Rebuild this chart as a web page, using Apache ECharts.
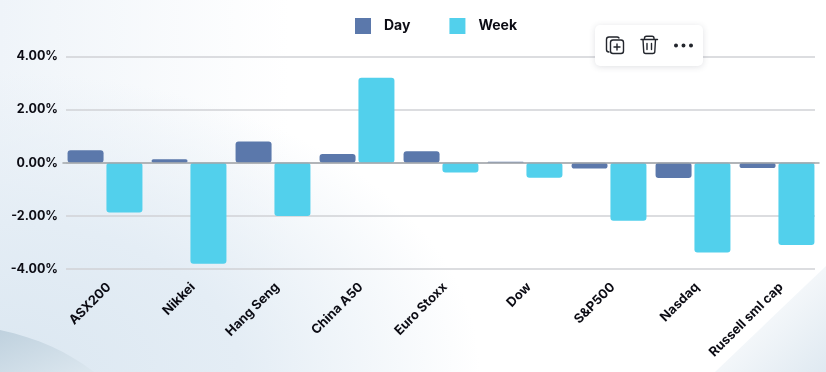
<!DOCTYPE html>
<html><head><meta charset="utf-8">
<style>
html,body{margin:0;padding:0;width:826px;height:372px;overflow:hidden}
body{position:relative;background:
 radial-gradient(ellipse 480px 300px at 0px 372px,#dbe7f1 0%,#e4edf5 50%,rgba(240,245,250,0) 100%),
 linear-gradient(90deg,#eff4f9 0%,rgba(255,255,255,0) 35%),
 linear-gradient(205deg,#ffffff 0%,#ffffff 100%);}
#deco{position:absolute;left:0;top:0}
#c{position:absolute;left:0;top:0;width:826px;height:372px}
#pop{position:absolute;left:595px;top:25px;width:108px;height:41px;background:#fff;border-radius:5px;box-shadow:0 1px 6px rgba(60,70,90,.16)}
#pop svg{position:absolute;left:0;top:0}
</style></head><body>
<svg id="deco" width="826" height="372">
<defs>
<linearGradient id="g1" x1="0" y1="0" x2="1" y2="1"><stop offset="0" stop-color="#bfd1de"/><stop offset="1" stop-color="#dce7ef"/></linearGradient>
<linearGradient id="g2" x1="0.3" y1="0.3" x2="1" y2="1"><stop offset="0" stop-color="#fbfcfd"/><stop offset="1" stop-color="#dfe9f1"/></linearGradient>
</defs>
<path d="M0 330 C38 338 68 352 94 372 L0 372 Z" fill="url(#g1)"/>
<path d="M826 266 L715 372 L826 372 Z" fill="url(#g2)"/></svg>
<div id="c"></div>
<div id="pop"><svg width="108" height="41" fill="none" stroke="#23262d" stroke-width="1.4" stroke-linejoin="round" stroke-linecap="round">
<path d="M14 27 a2.5 2.5 0 0 1 -2.5-2.5 V14.5 a2.5 2.5 0 0 1 2.5-2.5 h8 a2.5 2.5 0 0 1 2 1"/>
<rect x="15.5" y="15" width="13" height="13.5" rx="2.5"/>
<path d="M22 19v6M19 22h6"/>
<path d="M46 14.5h16.5M49.5 14.500v-1.200a2 2 0 0 1 2-2h5.500a2 2 0 0 1 2 2v1.200M48 14.500l.7 12a2 2 0 0 0 2 2h7.100a2 2 0 0 0 2-2l.7-12M52 18.500v6M56.500 18.500v6"/>
<circle cx="81" cy="20.500" r="1.300" fill="#23262d"/><circle cx="88.500" cy="20.500" r="1.300" fill="#23262d"/><circle cx="96" cy="20.500" r="1.300" fill="#23262d"/>
</svg></div>
<script src="https://cdn.jsdelivr.net/npm/echarts@6/dist/echarts.min.js"></script>
<script>
const categories=["ASX200","Nikkei","Hang Seng","China A50","Euro Stoxx","Dow","S&P500","Nasdaq","Russell sml cap"];
const dayValues=[0.47,0.13,0.80,0.33,0.43,0.04,-0.22,-0.57,-0.20];
const weekValues=[-1.87,-3.80,-2.00,3.20,-0.37,-0.56,-2.18,-3.38,-3.10];
const seriesNames=["Day","Week"];
const colors=["#5b78ab","#52d0ec"];
const font="Inter, 'Open Sans', sans-serif";
const chart=echarts.init(document.getElementById('c'),null,{renderer:'canvas'});
const yAxisBase={min:-4,max:4,interval:2};
chart.setOption({
 backgroundColor:'transparent',animation:false,
 legend:{top:13,left:350,itemWidth:16,itemHeight:16,itemGap:39,icon:'rect',
  data:seriesNames,
  textStyle:{color:'#0c0c14',fontFamily:font,fontWeight:700,fontSize:14,padding:[-4,0,0,8]}},
 grid:[
  {left:66,right:11,top:56.5,height:212.5},
  {left:63,right:7,top:56.5,height:212.5},
  {left:67,right:3,top:56.5,height:212.5}
 ],
 xAxis:[
  {type:'category',gridIndex:0,data:categories,show:false},
  {type:'category',gridIndex:1,data:categories,
   axisLine:{onZero:true,lineStyle:{color:'#a3a6aa',width:1.5}},axisTick:{show:false},
   axisLabel:{show:false},position:'bottom',z:5},
  {type:'category',gridIndex:2,data:categories,
   axisLine:{show:false},axisTick:{show:false},
   axisLabel:{interval:0,rotate:45,margin:16,color:'#0c0c14',fontFamily:font,fontWeight:700,fontSize:13},
   position:'bottom'}
 ],
 yAxis:[
  {...yAxisBase,type:'value',gridIndex:0,
   axisLine:{show:false},axisTick:{show:false},
   splitLine:{lineStyle:{color:'#d0d2d6',width:1.6}},
   axisLabel:{margin:8,color:'#0c0c14',fontFamily:font,fontWeight:700,fontSize:12.5,
    formatter:v=>v.toFixed(2)+'%'}},
  {...yAxisBase,type:'value',gridIndex:1,show:false},
  {...yAxisBase,type:'value',gridIndex:2,show:false}
 ],
 series:[
  {name:seriesNames[0],type:'bar',xAxisIndex:1,yAxisIndex:1,data:dayValues,barWidth:36,barGap:'8%',
   itemStyle:{color:colors[0],borderRadius:3}},
  {name:seriesNames[1],type:'bar',xAxisIndex:1,yAxisIndex:1,data:weekValues,barWidth:36,barGap:'8%',
   itemStyle:{color:colors[1],borderRadius:3}}
 ]
});
</script></body></html>
